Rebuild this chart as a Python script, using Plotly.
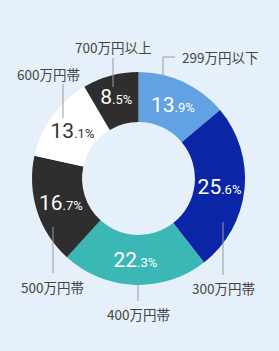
import plotly.graph_objects as go

categories = ["299万円以下", "300万円帯", "400万円帯", "500万円帯", "600万円帯", "700万円以上"]
values = [13.9, 25.6, 22.3, 16.7, 13.1, 8.5]
colors = ["#62a2e2", "#0a25a6", "#3bb8b6", "#2e2e2e", "#ffffff", "#2e2e2e"]
text_colors = ["#ffffff", "#ffffff", "#ffffff", "#ffffff", "#333333", "#ffffff"]

W, H = 279, 351
BG = "#e6f0fa"

def fmt(v):
    s = f"{v:.1f}"
    a, b = s.split(".")
    return f"{a}<span style='font-size:13px'>.{b}%</span>"

texts = [fmt(v) for v in values]

cx, cy, R = 138.5, 178.5, 106.5

fig = go.Figure(go.Pie(
    labels=categories,
    values=values,
    sort=False,
    direction="clockwise",
    rotation=0,
    hole=0.53,
    marker=dict(colors=colors, line=dict(width=0)),
    text=texts,
    textinfo="text",
    textposition="inside",
    insidetextorientation="horizontal",
    textfont=dict(size=21, color=text_colors, family="Roboto, Noto Sans CJK JP"),
    domain=dict(x=[(cx - R) / W, (cx + R) / W], y=[1 - (cy + R) / H, 1 - (cy - R) / H]),
    showlegend=False,
    hoverinfo="skip",
))

def px(x):
    return x / W

def py(y):
    return 1 - y / H

# outer labels: (text, x, y) in pixels
outer = [
    ("299万円以下", 220, 57),
    ("300万円帯", 223, 288),
    ("400万円帯", 138, 314),
    ("500万円帯", 52, 287),
    ("600万円帯", 48, 74),
    ("700万円以上", 113, 47),
]
annotations = []
for t, x, y in outer:
    annotations.append(dict(
        text=t, x=px(x), y=py(y), xref="paper", yref="paper",
        showarrow=False, xanchor="center", yanchor="middle",
        font=dict(size=13.5, color="#444444", family="Noto Sans CJK JP"),
    ))

line_style = dict(color="#9a9a9a", width=1)
leaders = [
    [(175, 57), (163, 57), (163, 84)],
    [(223, 222), (223, 275)],
    [(138, 277), (138, 301)],
    [(53, 227), (53, 273)],
    [(63, 84), (63, 118)],
    [(113, 58), (113, 87)],
]
shapes = []
for pts in leaders:
    path = "M " + " L ".join(f"{px(x):.4f},{py(y):.4f}" for x, y in pts)
    shapes.append(dict(type="path", path=path, xref="paper", yref="paper", line=line_style, layer="above"))

fig.update_layout(
    width=W, height=H,
    margin=dict(l=0, r=0, t=0, b=0),
    paper_bgcolor=BG, plot_bgcolor=BG,
    annotations=annotations,
    shapes=shapes,
)

fig.write_html("out.html")
